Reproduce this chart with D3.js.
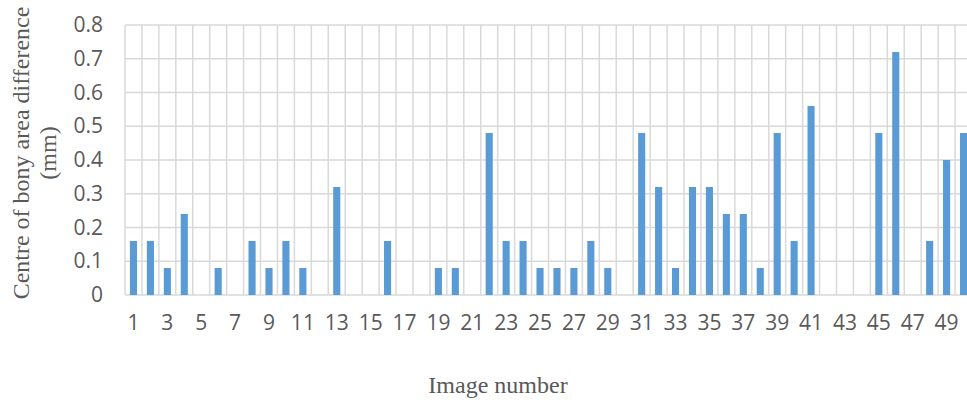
<!DOCTYPE html>
<html><head><meta charset="utf-8">
<script src="https://cdn.jsdelivr.net/npm/d3@7"></script>
<style>body{margin:0;background:#fff;overflow:hidden}</style>
</head><body>
<svg id="c" width="967" height="402"></svg>
<script>
const categories = d3.range(1, 51);
const values = [0.16,0.16,0.08,0.24,0,0.08,0,0.16,0.08,0.16,
                0.08,0,0.32,0,0,0.16,0,0,0.08,0.08,
                0,0.48,0.16,0.16,0.08,0.08,0.08,0.16,0.08,0,
                0.48,0.32,0.08,0.32,0.32,0.24,0.24,0.08,0.48,0.16,
                0.56,0,0,0,0.48,0.72,0,0.16,0.40,0.48];
const yTicks = [0,0.1,0.2,0.3,0.4,0.5,0.6,0.7,0.8];
const xTickLabels = categories.filter(d => d % 2 === 1);
const yTitle = ["Centre of bony area difference", "(mm)"];
const xTitle = "Image number";

(function(){
const svg = d3.select("#c");
const mLeft = 125, mTop = 25, mBottom = 295, bandW = 16.94;
const mRight = mLeft + bandW * categories.length;
const x = d3.scaleBand().domain(categories).range([mLeft, mRight]).padding(0);
const y = d3.scaleLinear().domain([0, 0.8]).range([mBottom, mTop]);
const grid = "#d9d9d9";
const tickFont = "'Open Sans', sans-serif";

svg.append("g").selectAll("line").data(yTicks).join("line")
  .attr("x1", mLeft).attr("x2", mRight)
  .attr("y1", d => y(d)).attr("y2", d => y(d))
  .attr("stroke", grid).attr("stroke-width", 1.5);
svg.append("g").selectAll("line").data(categories.concat([null])).join("line")
  .attr("x1", (d,i) => mLeft + i * x.step()).attr("x2", (d,i) => mLeft + i * x.step())
  .attr("y1", mTop).attr("y2", mBottom)
  .attr("stroke", grid).attr("stroke-width", 1.5);

const bw = x.bandwidth() * 0.42;
svg.append("g").selectAll("rect").data(categories).join("rect")
  .attr("x", d => x(d) + x.bandwidth()/2 - bw/2)
  .attr("width", bw)
  .attr("y", (d,i) => y(values[i]))
  .attr("height", (d,i) => y(0) - y(values[i]))
  .attr("fill", "#5b9bd5");

const yAxis = d3.axisLeft(y).tickValues(yTicks).tickSize(0).tickPadding(0)
  .tickFormat(d => d === 0 ? "0" : d3.format(".1f")(d));
const ya = svg.append("g").attr("transform", `translate(${mLeft - 22},0)`).call(yAxis);
ya.select(".domain").remove();
ya.selectAll("text").attr("font-family", tickFont)
  .attr("font-size", 21).attr("fill", "#595959");

const xAxis = d3.axisBottom(x).tickValues(xTickLabels).tickSize(0).tickPadding(0);
const xa = svg.append("g").attr("transform", `translate(0,${mBottom + 20})`).call(xAxis);
xa.select(".domain").remove();
xa.selectAll("text").attr("font-family", tickFont)
  .attr("font-size", 21).attr("fill", "#595959").attr("dy", "0.71em");

const yt = svg.append("text")
  .attr("transform", "translate(29,153) rotate(-90)")
  .attr("text-anchor", "middle")
  .attr("font-family", "'Liberation Serif', 'Times New Roman', serif")
  .attr("font-size", 24).attr("fill", "#595959");
yt.append("tspan").attr("x", 0).attr("dy", 0).text(yTitle[0]);
yt.append("tspan").attr("x", 0).attr("dy", 27).text(yTitle[1]);

svg.append("text").attr("x", 498).attr("y", 393)
  .attr("text-anchor", "middle")
  .attr("font-family", "'Liberation Serif', 'Times New Roman', serif")
  .attr("font-size", 24).attr("fill", "#595959").text(xTitle);
})();
</script>
</body></html>
